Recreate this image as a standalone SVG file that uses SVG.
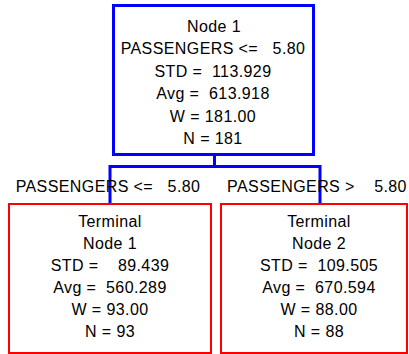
<svg xmlns="http://www.w3.org/2000/svg" width="409" height="354" viewBox="0 0 409 354">
<style>
text{font-family:"Liberation Sans",Arial,sans-serif;font-size:16px;fill:#000;text-anchor:middle;white-space:pre;letter-spacing:0.4px}
.split{fill:#fff;stroke:#0000ff;stroke-width:3}
.term{fill:#fff;stroke:#ff0000;stroke-width:2}
.conn{fill:none;stroke:#0000ff;stroke-width:3}
</style>
<rect width="409" height="354" fill="#fff"/>
<g id="connectors">
<path class="conn" d="M214.5,155 V166.5 M110,166.5 H320 M110,165 V204 M320,165 V204"/>
<text x="108" y="192" xml:space="preserve">PASSENGERS &lt;=   5.80</text>
<text x="317" y="192" xml:space="preserve">PASSENGERS &gt;    5.80</text>
</g>
<g id="node1">
<rect class="split" x="113.5" y="5.5" width="200" height="149"/>
<text x="214" y="31.5">Node 1</text>
<text x="213" y="54" xml:space="preserve">PASSENGERS &lt;=   5.80</text>
<text x="213" y="76.5" xml:space="preserve">STD =  113.929</text>
<text x="213" y="99">Avg =  613.918</text>
<text x="213" y="121.5">W = 181.00</text>
<text x="213" y="144">N = 181</text>
</g>
<g id="terminal1">
<rect class="term" x="9" y="204" width="202" height="149"/>
<text x="110" y="227">Terminal</text>
<text x="110" y="249">Node 1</text>
<text x="110" y="271" xml:space="preserve">STD =    89.439</text>
<text x="110" y="293" xml:space="preserve">Avg =  560.289</text>
<text x="110" y="315">W = 93.00</text>
<text x="110" y="337">N = 93</text>
</g>
<g id="terminal2">
<rect class="term" x="221" y="204" width="186" height="149"/>
<text x="319" y="227">Terminal</text>
<text x="319" y="249">Node 2</text>
<text x="319" y="271" xml:space="preserve">STD =  109.505</text>
<text x="319" y="293" xml:space="preserve">Avg =  670.594</text>
<text x="319" y="315">W = 88.00</text>
<text x="319" y="337">N = 88</text>
</g>
</svg>
